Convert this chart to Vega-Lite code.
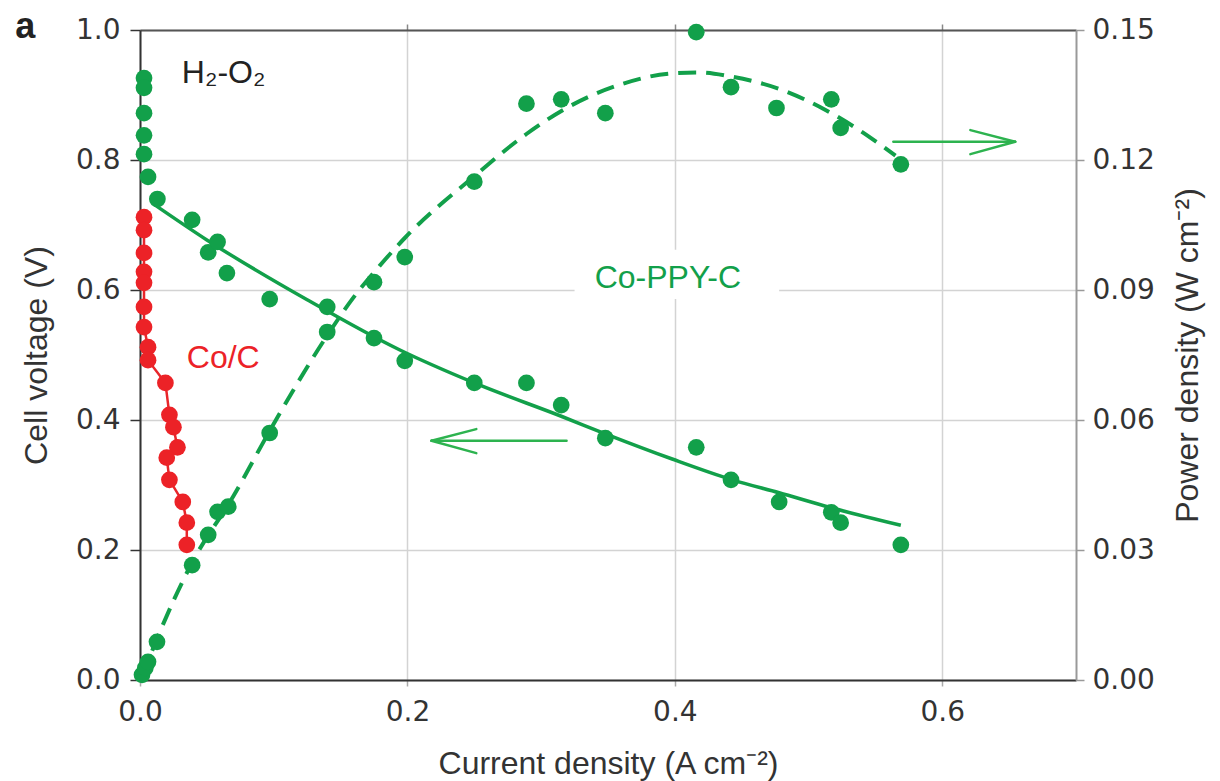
{
  "$schema": "https://vega.github.io/schema/vega-lite/v6.json",
  "width": 936,
  "height": 650,
  "autosize": {"type": "none"},
  "padding": {"left": 140, "top": 30, "right": 144, "bottom": 101},
  "background": "white",
  "config": {
    "view": {"stroke": null},
    "axis": {
      "labelFont": "DejaVu Sans",
      "labelFontSize": 28,
      "labelColor": "#333333",
      "titleFont": "Liberation Sans",
      "titleFontSize": 32,
      "titleFontWeight": "normal",
      "titleColor": "#333333",
      "labelOverlap": false,
      "labelBound": false,
      "labelFlush": false
    }
  },
  "datasets": {
    "vpts": [
      {"j": 0.003, "V": 0.926}, {"j": 0.003, "V": 0.911}, {"j": 0.003, "V": 0.872},
      {"j": 0.003, "V": 0.838}, {"j": 0.003, "V": 0.809}, {"j": 0.006, "V": 0.774},
      {"j": 0.013, "V": 0.740}, {"j": 0.039, "V": 0.708}, {"j": 0.051, "V": 0.658},
      {"j": 0.058, "V": 0.674}, {"j": 0.065, "V": 0.626}, {"j": 0.097, "V": 0.586},
      {"j": 0.140, "V": 0.574}, {"j": 0.175, "V": 0.526}, {"j": 0.198, "V": 0.491},
      {"j": 0.250, "V": 0.457}, {"j": 0.289, "V": 0.457}, {"j": 0.315, "V": 0.423},
      {"j": 0.348, "V": 0.372}, {"j": 0.416, "V": 0.358}, {"j": 0.442, "V": 0.308},
      {"j": 0.478, "V": 0.274}, {"j": 0.517, "V": 0.258}, {"j": 0.524, "V": 0.242},
      {"j": 0.569, "V": 0.208}
    ],
    "vfit": [
      {"j": 0.011, "V": 0.731}, {"j": 0.05, "V": 0.677}, {"j": 0.125, "V": 0.585},
      {"j": 0.194, "V": 0.508}, {"j": 0.25, "V": 0.457}, {"j": 0.316, "V": 0.405},
      {"j": 0.349, "V": 0.378}, {"j": 0.398, "V": 0.340}, {"j": 0.443, "V": 0.308},
      {"j": 0.478, "V": 0.288}, {"j": 0.517, "V": 0.265}, {"j": 0.569, "V": 0.238}
    ],
    "red": [
      {"j": 0.003, "V": 0.712}, {"j": 0.003, "V": 0.692}, {"j": 0.003, "V": 0.657},
      {"j": 0.003, "V": 0.628}, {"j": 0.003, "V": 0.611}, {"j": 0.003, "V": 0.574},
      {"j": 0.003, "V": 0.543}, {"j": 0.006, "V": 0.512}, {"j": 0.006, "V": 0.492},
      {"j": 0.019, "V": 0.457}, {"j": 0.022, "V": 0.408}, {"j": 0.025, "V": 0.389},
      {"j": 0.028, "V": 0.358}, {"j": 0.020, "V": 0.342}, {"j": 0.022, "V": 0.308},
      {"j": 0.032, "V": 0.274}, {"j": 0.035, "V": 0.242}, {"j": 0.035, "V": 0.208}
    ],
    "ppts": [
      {"j": 0.0015, "P": 0.0012}, {"j": 0.004, "P": 0.0028}, {"j": 0.006, "P": 0.0042},
      {"j": 0.0127, "P": 0.0088}, {"j": 0.039, "P": 0.0265}, {"j": 0.051, "P": 0.0335},
      {"j": 0.058, "P": 0.0388}, {"j": 0.066, "P": 0.040}, {"j": 0.097, "P": 0.057},
      {"j": 0.140, "P": 0.0803}, {"j": 0.175, "P": 0.0918}, {"j": 0.198, "P": 0.0976},
      {"j": 0.250, "P": 0.115}, {"j": 0.289, "P": 0.133}, {"j": 0.315, "P": 0.134},
      {"j": 0.348, "P": 0.1308}, {"j": 0.416, "P": 0.1495}, {"j": 0.442, "P": 0.1368},
      {"j": 0.476, "P": 0.132}, {"j": 0.517, "P": 0.134}, {"j": 0.524, "P": 0.1274},
      {"j": 0.569, "P": 0.119}
    ],
    "pfit": [
      {"j": 0.0015, "P": 0.0007}, {"j": 0.0127, "P": 0.0095}, {"j": 0.0388, "P": 0.027},
      {"j": 0.07, "P": 0.0425}, {"j": 0.097, "P": 0.0575}, {"j": 0.14, "P": 0.0795},
      {"j": 0.159, "P": 0.088}, {"j": 0.179, "P": 0.0955}, {"j": 0.198, "P": 0.102},
      {"j": 0.249, "P": 0.116}, {"j": 0.289, "P": 0.126}, {"j": 0.319, "P": 0.132},
      {"j": 0.36, "P": 0.1375}, {"j": 0.398, "P": 0.14}, {"j": 0.418, "P": 0.1402},
      {"j": 0.443, "P": 0.1392}, {"j": 0.48, "P": 0.1362}, {"j": 0.513, "P": 0.1315},
      {"j": 0.547, "P": 0.125}, {"j": 0.565, "P": 0.121}
    ],
    "arrows": [
      {"j": 0.218, "V": 0.368, "j2": 0.319, "V2": 0.368},
      {"j": 0.218, "V": 0.368, "j2": 0.2515, "V2": 0.386},
      {"j": 0.218, "V": 0.368, "j2": 0.2515, "V2": 0.349},
      {"j": 0.5634, "V": 0.828, "j2": 0.6545, "V2": 0.828},
      {"j": 0.6545, "V": 0.828, "j2": 0.621, "V2": 0.846},
      {"j": 0.6545, "V": 0.828, "j2": 0.621, "V2": 0.809}
    ]
  },
  "layer": [
    {
      "encoding": {
        "x": {
          "field": "j", "type": "quantitative",
          "scale": {"domain": [0, 0.7], "nice": false, "zero": false},
          "title": "Current density (A cm⁻²)",
          "axis": {
            "orient": "bottom", "values": [0, 0.2, 0.4, 0.6], "format": ".1f",
            "grid": true, "gridColor": "#d3d3d3", "gridWidth": 1.5,
            "domainColor": "#333333", "domainWidth": 2,
            "tickColor": "#aaaaaa", "tickSize": 6, "tickWidth": 1.5,
            "labelPadding": 12, "titlePadding": 22
          }
        },
        "y": {
          "field": "V", "type": "quantitative",
          "scale": {"domain": [0, 1], "nice": false, "zero": false},
          "title": "Cell voltage (V)",
          "axis": {
            "orient": "left", "values": [0, 0.2, 0.4, 0.6, 0.8, 1.0], "format": ".1f",
            "grid": true, "gridColor": "#d3d3d3", "gridWidth": 1.5,
            "domainColor": "#333333", "domainWidth": 2,
            "tickColor": "#333333", "tickSize": 10, "tickWidth": 1.5,
            "labelPadding": 10, "titlePadding": 22
          }
        }
      },
      "layer": [
        {
          "data": {"values": [{"j": 0.325, "j2": 0.478, "V": 0.586, "V2": 0.662}]},
          "mark": {"type": "rect", "fill": "white", "stroke": null},
          "encoding": {"x2": {"field": "j2"}, "y2": {"field": "V2"}}
        },
        {
          "data": {"name": "arrows"},
          "mark": {"type": "rule", "color": "#2db34f", "strokeWidth": 2.5, "strokeCap": "round"},
          "encoding": {"x2": {"field": "j2"}, "y2": {"field": "V2"}}
        },
        {
          "data": {"name": "vfit"},
          "mark": {"type": "line", "color": "#12a04a", "strokeWidth": 3.5, "interpolate": "monotone"},
          "encoding": {}
        },
        {
          "data": {"name": "red"},
          "mark": {"type": "line", "color": "#e8262b", "strokeWidth": 2.5},
          "encoding": {"order": {"field": "V", "sort": "descending"}}
        },
        {
          "data": {"name": "vpts"},
          "mark": {"type": "circle", "color": "#12a04a", "opacity": 1, "size": 280},
          "encoding": {}
        },
        {
          "data": {"name": "red"},
          "mark": {"type": "circle", "color": "#ec2227", "opacity": 1, "size": 280},
          "encoding": {}
        },
        {
          "data": {"values": [{"j": 0.0313, "V": 0.918, "t": "H₂-O₂"}]},
          "mark": {"type": "text", "font": "Liberation Sans", "fontSize": 32, "color": "#222222", "align": "left", "baseline": "alphabetic"},
          "encoding": {"text": {"field": "t"}}
        },
        {
          "data": {"values": [{"j": 0.035, "V": 0.48, "t": "Co/C"}]},
          "mark": {"type": "text", "font": "Liberation Sans", "fontSize": 32, "color": "#ec2227", "align": "left", "baseline": "alphabetic"},
          "encoding": {"text": {"field": "t"}}
        },
        {
          "data": {"values": [{"j": 0.3948, "V": 0.603, "t": "Co-PPY-C"}]},
          "mark": {"type": "text", "font": "Liberation Sans", "fontSize": 32, "color": "#12a04a", "align": "center", "baseline": "alphabetic"},
          "encoding": {"text": {"field": "t"}}
        },
        {
          "data": {"values": [{"j": -0.0933, "V": 0.9877, "t": "a"}]},
          "mark": {"type": "text", "font": "Liberation Sans", "fontSize": 36, "fontWeight": "bold", "color": "#222222", "align": "left", "baseline": "alphabetic"},
          "encoding": {"text": {"field": "t"}}
        }
      ]
    },
    {
      "encoding": {
        "x": {
          "field": "j", "type": "quantitative",
          "scale": {"domain": [0, 0.7], "nice": false, "zero": false},
          "title": null,
          "axis": {
            "orient": "top", "values": [0.2, 0.4, 0.6], "labels": false,
            "grid": false, "domainColor": "#555555", "domainWidth": 2,
            "tickColor": "#888888", "tickSize": 6, "tickWidth": 1.5
          }
        },
        "y": {
          "field": "P", "type": "quantitative",
          "scale": {"domain": [0, 0.15], "nice": false, "zero": false},
          "title": "Power density (W cm⁻²)",
          "axis": {
            "orient": "right", "values": [0, 0.03, 0.06, 0.09, 0.12, 0.15], "format": ".2f",
            "grid": false, "domainColor": "#999999", "domainWidth": 2,
            "tickColor": "#999999", "tickSize": 8, "tickWidth": 1.5,
            "labelPadding": 8, "titlePadding": 18,
            "titleAngle": 270, "titleBaseline": "top"
          }
        }
      },
      "layer": [
        {
          "data": {"name": "pfit"},
          "mark": {"type": "line", "color": "#12a04a", "strokeWidth": 4, "strokeDash": [18, 10], "interpolate": "monotone"},
          "encoding": {}
        },
        {
          "data": {"name": "ppts"},
          "mark": {"type": "circle", "color": "#12a04a", "opacity": 1, "size": 280},
          "encoding": {}
        }
      ]
    }
  ],
  "resolve": {"scale": {"y": "independent"}, "axis": {"x": "independent"}}
}
